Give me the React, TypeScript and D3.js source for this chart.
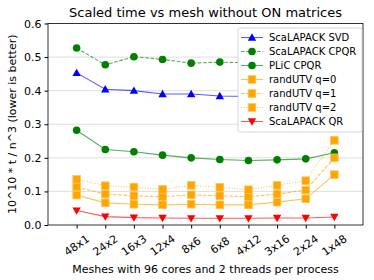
import { useEffect, useRef } from 'react';
import * as d3 from 'd3';

const meshes = ['48x1', '24x2', '16x3', '12x4', '8x6', '6x8', '4x12', '3x16', '2x24', '1x48'];
const yTicks = [0.0, 0.1, 0.2, 0.3, 0.4, 0.5, 0.6];

const svdValues = [0.453, 0.404, 0.4, 0.39, 0.39, 0.384, 0.383, 0.384, 0.386, 0.39];
const cpqrValues = [0.527, 0.477, 0.501, 0.493, 0.482, 0.485, 0.483, 0.486, 0.49, 0.5];
const plicValues = [0.282, 0.225, 0.218, 0.208, 0.2, 0.195, 0.192, 0.194, 0.197, 0.215];
const randQ0Values = [0.089, 0.066, 0.062, 0.06, 0.062, 0.06, 0.06, 0.068, 0.078, 0.15];
const randQ1Values = [0.113, 0.092, 0.087, 0.084, 0.09, 0.087, 0.084, 0.092, 0.104, 0.2];
const randQ2Values = [0.136, 0.117, 0.113, 0.106, 0.118, 0.112, 0.105, 0.118, 0.132, 0.252];
const qrValues = [0.043, 0.025, 0.022, 0.021, 0.02, 0.02, 0.02, 0.021, 0.021, 0.024];

type Marker = 'triangleUp' | 'triangleDown' | 'circle' | 'square';
interface Series {
  name: string;
  values: number[];
  color: string;
  dash: string | null;
  marker: Marker;
}

const series: Series[] = [
  { name: 'ScaLAPACK SVD', values: svdValues, color: 'blue', dash: null, marker: 'triangleUp' },
  { name: 'ScaLAPACK CPQR', values: cpqrValues, color: 'green', dash: '3.7,1.6', marker: 'circle' },
  { name: 'PLiC CPQR', values: plicValues, color: 'green', dash: null, marker: 'circle' },
  { name: 'randUTV q=0', values: randQ0Values, color: 'orange', dash: null, marker: 'square' },
  { name: 'randUTV q=1', values: randQ1Values, color: 'orange', dash: '3.7,1.6', marker: 'square' },
  { name: 'randUTV q=2', values: randQ2Values, color: 'orange', dash: '1,1.65', marker: 'square' },
  { name: 'ScaLAPACK QR', values: qrValues, color: 'red', dash: null, marker: 'triangleDown' },
];

const font = 'DejaVu Sans, sans-serif';

function drawMarker(g: d3.Selection<SVGGElement, unknown, null, undefined>, kind: Marker, cx: number, cy: number, color: string) {
  const s = 4.2;
  if (kind === 'circle') {
    g.append('circle').attr('cx', cx).attr('cy', cy).attr('r', 3.8).attr('fill', color);
  } else if (kind === 'square') {
    g.append('rect')
      .attr('x', cx - 3.8).attr('y', cy - 3.8).attr('width', 7.6).attr('height', 7.6)
      .attr('fill', color).attr('stroke', '#ffc25a').attr('stroke-width', 0.8);
  } else {
    const dir = kind === 'triangleUp' ? -1 : 1;
    const pts = [
      [cx, cy + dir * s],
      [cx - s, cy - dir * s * 0.75],
      [cx + s, cy - dir * s * 0.75],
    ];
    g.append('polygon').attr('points', pts.map((p) => p.join(',')).join(' ')).attr('fill', color);
  }
}

export default function App() {
  const svgRef = useRef<SVGSVGElement>(null);

  useEffect(() => {
    document.body.style.margin = '0';
    if (!svgRef.current) return;
    const svg = d3.select(svgRef.current);
    svg.selectAll('*').remove();

    const left = 48, right = 363, top = 23.5, bottom = 225;
    const x = d3.scaleLinear().domain([-1, 10]).range([left, right]);
    const y = d3.scaleLinear().domain([0, 0.6]).range([bottom, top]);

    svg.append('rect').attr('width', 374).attr('height', 280).attr('fill', 'white');

    // grid
    svg.append('g')
      .selectAll('line')
      .data(yTicks.slice(1, -1))
      .join('line')
      .attr('x1', left).attr('x2', right)
      .attr('y1', (d) => y(d)).attr('y2', (d) => y(d))
      .attr('stroke', '#b0b0b0').attr('stroke-opacity', 0.5).attr('stroke-width', 0.8);

    // series
    const line = d3.line<number>().x((_, i) => x(i)).y((d) => y(d));
    series.forEach((s) => {
      svg.append('path')
        .attr('d', line(s.values))
        .attr('fill', 'none')
        .attr('stroke', s.color)
        .attr('stroke-opacity', 0.65)
        .attr('stroke-width', 1.1)
        .attr('stroke-dasharray', s.dash ?? null);
      const mg = svg.append('g');
      s.values.forEach((v, i) => drawMarker(mg, s.marker, x(i), y(v), s.color));
    });

    // axes frame
    svg.append('rect')
      .attr('x', left).attr('y', top).attr('width', right - left).attr('height', bottom - top)
      .attr('fill', 'none').attr('stroke', 'black').attr('stroke-width', 0.8);

    // y axis
    const yAxis = svg.append('g')
      .attr('transform', `translate(${left},0)`)
      .call(d3.axisLeft(y).tickValues(yTicks).tickFormat(d3.format('.1f')).tickSize(3.5).tickPadding(3));
    yAxis.select('.domain').remove();
    yAxis.selectAll('text').attr('font-family', font).attr('font-size', 11).attr('fill', 'black');

    // x axis
    const xAxis = svg.append('g')
      .attr('transform', `translate(0,${bottom})`)
      .call(d3.axisBottom(x).tickValues(d3.range(meshes.length)).tickFormat((d) => meshes[+d]).tickSize(3.5));
    xAxis.select('.domain').remove();
    xAxis.selectAll<SVGTextElement, number>('text')
      .attr('font-family', font).attr('font-size', 11).attr('fill', 'black')
      .attr('text-anchor', 'middle')
      .attr('dy', null)
      .attr('y', 0)
      .attr('transform', 'translate(0,21) rotate(-35)')
      .attr('dominant-baseline', 'middle');

    // title & labels
    svg.append('text')
      .attr('x', (left + right) / 2).attr('y', 17)
      .attr('text-anchor', 'middle').attr('font-family', font).attr('font-size', 13)
      .text('Scaled time vs mesh without ON matrices');
    svg.append('text')
      .attr('x', (left + right) / 2).attr('y', 273)
      .attr('text-anchor', 'middle').attr('font-family', font).attr('font-size', 11)
      .text('Meshes with 96 cores and 2 threads per process');
    svg.append('text')
      .attr('transform', `translate(16,${(top + bottom) / 2}) rotate(-90)`)
      .attr('text-anchor', 'middle').attr('font-family', font).attr('font-size', 11)
      .text('10^10 * t / n^3 (lower is better)');

    // legend
    const lg = svg.append('g');
    lg.append('rect')
      .attr('x', 238).attr('y', 28).attr('width', 124).attr('height', 104).attr('rx', 2)
      .attr('fill', 'white').attr('stroke', '#cccccc').attr('stroke-width', 0.8);
    series.forEach((s, i) => {
      const ry = 37.5 + i * 14;
      lg.append('line')
        .attr('x1', 241).attr('x2', 263).attr('y1', ry).attr('y2', ry)
        .attr('stroke', s.color).attr('stroke-opacity', 0.65).attr('stroke-width', 1.1)
        .attr('stroke-dasharray', s.dash ?? null);
      drawMarker(lg, s.marker, 252, ry, s.color);
      lg.append('text')
        .attr('x', 269).attr('y', ry).attr('dy', '0.35em')
        .attr('font-family', font).attr('font-size', 10)
        .text(s.name);
    });
  }, []);

  return <svg ref={svgRef} width={374} height={280} style={{ display: 'block' }} />;
}
